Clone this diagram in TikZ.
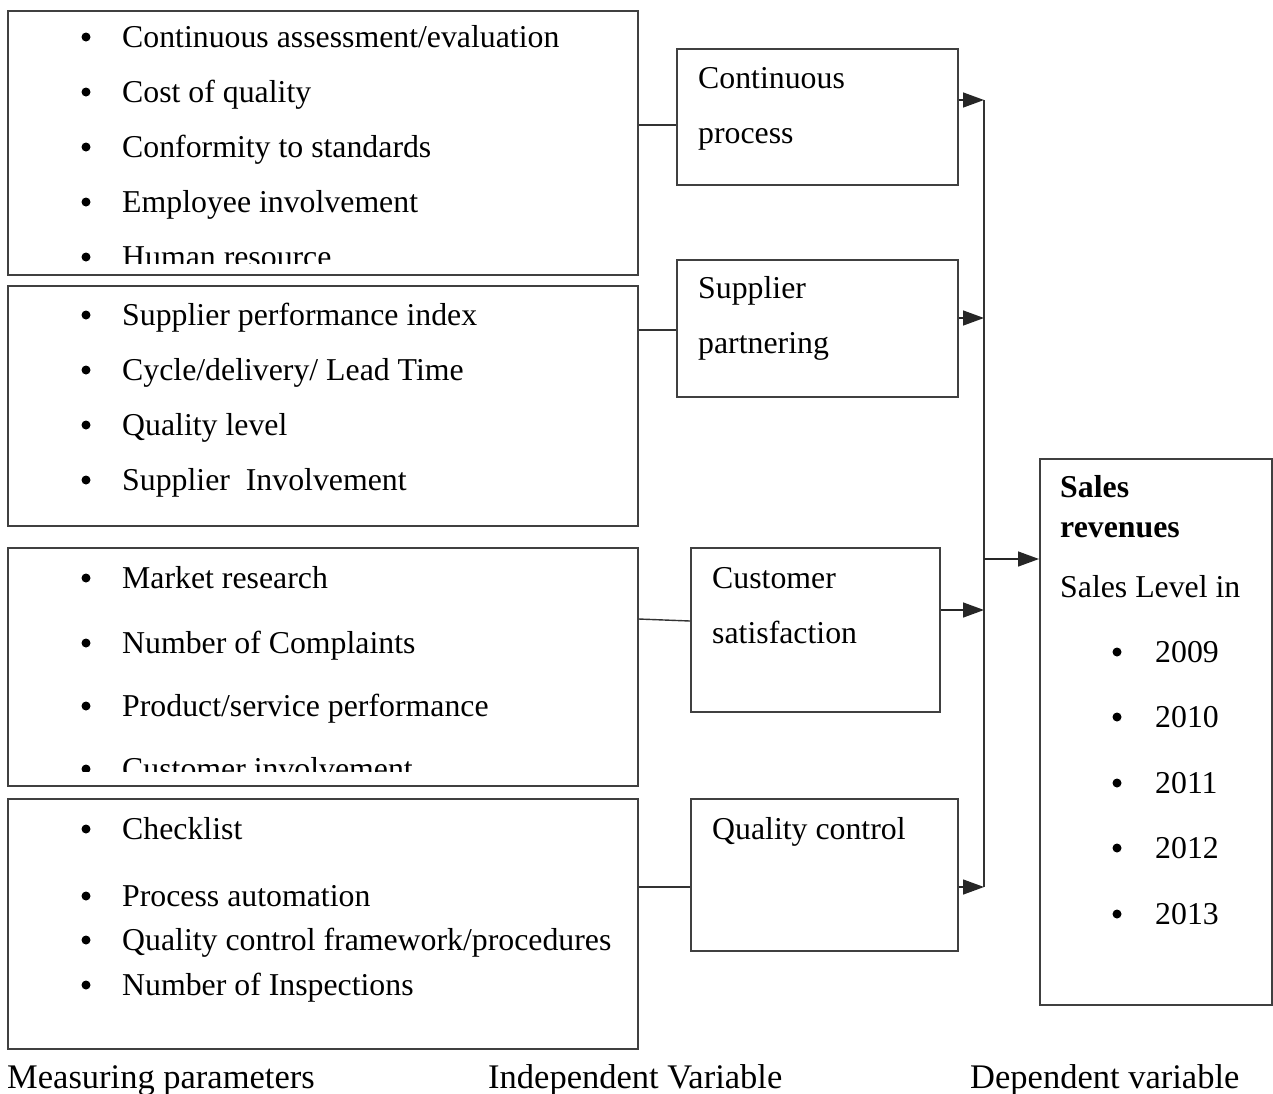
\documentclass[tikz,border=0pt]{standalone}
\usepackage{fontspec}
\setmainfont{Liberation Serif}
\usetikzlibrary{arrows.meta}
\begin{document}
\begin{tikzpicture}[x=1pt,y=-1pt,
  box/.style={draw=black!75,line width=1.6pt,anchor=north west,inner sep=0pt,fill=none},
  txt/.style={anchor=base west,inner sep=0pt,font=\fontsize{31.8}{36}\selectfont},
  bul/.style={circle,fill=black,inner sep=0pt,minimum size=9pt},
  lab/.style={anchor=base west,inner sep=0pt,font=\fontsize{34.5}{40}\selectfont},
  conn/.style={draw=black!80,line width=1.4pt},
  arr/.style={draw=black!85,line width=1.4pt,-{Triangle[length=21pt,width=15pt]}}
]
\useasboundingbox (0,0) rectangle (1273,1093);

% ---------- measuring parameter boxes ----------
\node[box,minimum width=630pt,minimum height=264pt] (b1) at (7,10) {};
\node[box,minimum width=630pt,minimum height=240pt] (b2) at (7,285) {};
\node[box,minimum width=630pt,minimum height=238pt] (b3) at (7,547) {};
\node[box,minimum width=630pt,minimum height=250pt] (b4) at (7,798) {};

% box 1 text
\begin{scope}
\clip (7,10) rectangle (637,263);
\foreach \yy/\tt [count=\i] in {47/{Continuous assessment/evaluation},102/{Cost of quality},157/{Conformity to standards},212/{Employee involvement},267/{Human resource}}{
  \node[bul] (ba\i) at (86,\yy-10) {};
  \node[txt] (ta\i) at (122,\yy) {\tt};
}
\end{scope}
% box 2 text
\foreach \yy/\tt [count=\i] in {325/{Supplier performance index},380/{Cycle/delivery/ Lead Time},435/{Quality level},490/{Supplier\ \ Involvement}}{
  \node[bul] (bb\i) at (86,\yy-10) {};
  \node[txt] (tb\i) at (122,\yy) {\tt};
}
% box 3 text
\begin{scope}
\clip (7,547) rectangle (637,771);
\foreach \yy/\tt [count=\i] in {588/{Market research},653/{Number of Complaints},716/{Product/service performance},779/{Customer involvement}}{
  \node[bul] (bc\i) at (86,\yy-10) {};
  \node[txt] (tc\i) at (122,\yy) {\tt};
}
\end{scope}
% box 4 text
\foreach \yy/\tt [count=\i] in {839/{Checklist},906/{Process automation},950/{Quality control framework/procedures},995/{Number of Inspections}}{
  \node[bul] (bd\i) at (86,\yy-10) {};
  \node[txt] (td\i) at (122,\yy) {\tt};
}

% ---------- independent variable boxes ----------
\node[box,minimum width=281pt,minimum height=136pt] (cp) at (676,48) {};
\node[box,minimum width=281pt,minimum height=137pt] (sp) at (676,259) {};
\node[box,minimum width=249pt,minimum height=164pt] (cs) at (690,547) {};
\node[box,minimum width=267pt,minimum height=152pt] (qc) at (690,798) {};

\node[txt] (cpt1) at (698,88) {Continuous};
\node[txt] (cpt2) at (698,143) {process};
\node[txt] (spt1) at (698,298) {Supplier};
\node[txt] (spt2) at (698,353) {partnering};
\node[txt] (cst1) at (712,588) {Customer};
\node[txt] (cst2) at (712,643) {satisfaction};
\node[txt] (qct1) at (712,839) {Quality control};

% ---------- dependent variable box ----------
\node[box,minimum width=232pt,minimum height=546pt] (sr) at (1039,458) {};
\node[txt,font=\fontsize{31.8}{36}\selectfont\bfseries] (srt1) at (1060,497) {Sales};
\node[txt,font=\fontsize{31.8}{36}\selectfont\bfseries] (srt2) at (1060,537) {revenues};
\node[txt] (srt3) at (1060,597) {Sales Level in};
\foreach \yy/\tt [count=\i] in {662/2009,727/2010,793/2011,858/2012,924/2013}{
  \node[bul] (be\i) at (1117,\yy-10) {};
  \node[txt] (te\i) at (1155,\yy) {\tt};
}

% ---------- connectors ----------
\draw[conn] (b1.east |- 0,125) -- (cp.west |- 0,125);
\draw[conn] (b2.east |- 0,330) -- (sp.west |- 0,330);
\draw[conn] (b3.east |- 0,619) -- (cs.west |- 0,621);
\draw[conn] (b4.east |- 0,887) -- (qc.west |- 0,887);

\coordinate (j1) at (984,100);
\coordinate (j2) at (984,318);
\coordinate (j3) at (984,610);
\coordinate (j4) at (984,887);
\coordinate (jm) at (984,559);

\draw[conn] (j1) -- (j4);
\draw[arr] (cp.east |- j1) -- (j1);
\draw[arr] (sp.east |- j2) -- (j2);
\draw[arr] (cs.east |- j3) -- (j3);
\draw[arr] (qc.east |- j4) -- (j4);
\draw[arr] (jm) -- (sr.west |- jm);

% ---------- bottom labels ----------
\node[lab] (l1) at (7,1088) {Measuring parameters};
\node[lab] (l2) at (488,1088) {Independent Variable};
\node[lab] (l3) at (970,1088) {Dependent variable};
\end{tikzpicture}
\end{document}
